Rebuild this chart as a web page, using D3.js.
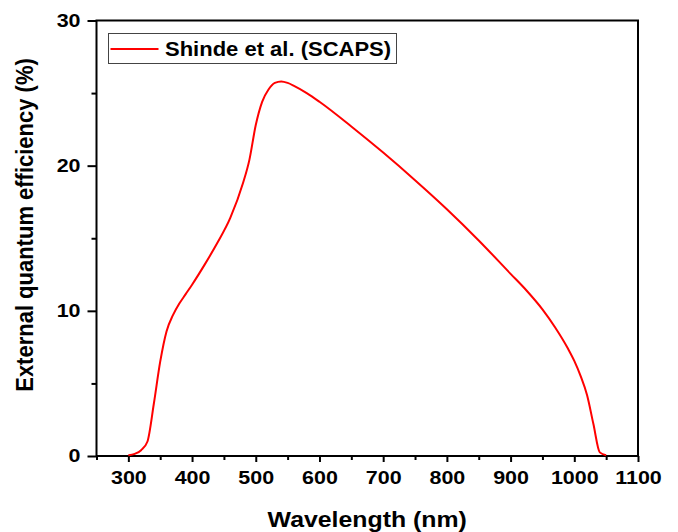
<!DOCTYPE html>
<html>
<head>
<meta charset="utf-8">
<script src="https://cdn.jsdelivr.net/npm/d3@7"></script>
<style>
  body { margin: 0; background: #fff; }
  text { font-family: "Liberation Sans", Arial, sans-serif; font-weight: bold; }
</style>
</head>
<body>
<script>
// data
const wavelength = [300, 310, 320, 330, 340, 350, 360, 370, 380, 390, 400, 420, 440, 460, 480, 490,
  500, 510, 520, 530, 540, 550, 560, 580, 600, 650, 700, 750, 800, 850, 900, 925, 950, 970, 990,
  1000, 1010, 1020, 1030, 1040, 1050];
const eqe = [0.05, 0.15, 0.4, 1.0, 3.6, 6.5, 8.6, 9.7, 10.5, 11.15, 11.8, 13.2, 14.7, 16.4, 18.8, 20.4,
  22.8, 24.4, 25.25, 25.7, 25.8, 25.7, 25.5, 25.0, 24.4, 22.7, 20.9, 19.0, 17.0, 14.85, 12.55, 11.4, 10.1, 8.85, 7.4,
  6.55, 5.5, 4.2, 2.2, 0.25, 0.05];
const xMajor = [300, 400, 500, 600, 700, 800, 900, 1000, 1100];
const xMinor = [250, 350, 450, 550, 650, 750, 850, 950, 1050];
const yMajor = [0, 10, 20, 30];
const yMinor = [5, 15, 25];
const seriesName = 'Shinde et al. (SCAPS)';

const W = 678, H = 532;
const margin = { top: 20.5, right: 40, bottom: 76, left: 96.5 };
const width = W - margin.left - margin.right;
const height = H - margin.top - margin.bottom;
const sx = 1.16; // the reference text is a little wide

const svg = d3.select('body').append('svg')
  .attr('width', W)
  .attr('height', H);

const g = svg.append('g')
  .attr('transform', `translate(${margin.left},${margin.top})`);

const x = d3.scaleLinear().domain([250, 1100]).range([0, width]);
const y = d3.scaleLinear().domain([0, 30]).range([height, 0]);

// minor ticks
g.append('g')
  .attr('transform', `translate(0,${height})`)
  .call(d3.axisBottom(x).tickValues(xMinor).tickSize(4).tickFormat(''))
  .call(a => a.select('.domain').remove())
  .selectAll('line').attr('stroke-width', 2);
g.append('g')
  .call(d3.axisLeft(y).tickValues(yMinor).tickSize(5).tickFormat(''))
  .call(a => a.select('.domain').remove())
  .selectAll('line').attr('stroke-width', 2);

// major ticks
const xAxis = g.append('g')
  .attr('transform', `translate(0,${height})`)
  .call(d3.axisBottom(x).tickValues(xMajor).tickSize(6).tickPadding(9).tickFormat(d3.format('d')));
xAxis.select('.domain').remove();
xAxis.selectAll('line').attr('stroke-width', 2);
xAxis.selectAll('text')
  .style('font-size', '18.5px')
  .attr('fill', '#000')
  .attr('transform', `scale(${sx},1)`);

const yAxis = g.append('g')
  .call(d3.axisLeft(y).tickValues(yMajor).tickSize(9).tickPadding(6).tickFormat(d3.format('d')));
yAxis.select('.domain').remove();
yAxis.selectAll('line').attr('stroke-width', 2);
yAxis.selectAll('text')
  .style('font-size', '18.5px')
  .attr('fill', '#000')
  .attr('x', -16 / sx)
  .attr('transform', `scale(${sx},1)`);

// frame
g.append('rect')
  .attr('width', width)
  .attr('height', height)
  .attr('fill', 'none')
  .attr('stroke', '#000')
  .attr('stroke-width', 2);

// curve
const line = d3.line()
  .x((d, i) => x(wavelength[i]))
  .y(d => y(d))
  .curve(d3.curveMonotoneX);

g.append('path')
  .datum(eqe)
  .attr('fill', 'none')
  .attr('stroke', '#ff0000')
  .attr('stroke-width', 2)
  .attr('d', line);

// legend
const leg = g.append('g').attr('transform', 'translate(12,13)');
leg.append('rect')
  .attr('width', 288)
  .attr('height', 30)
  .attr('fill', '#fff')
  .attr('stroke', '#444')
  .attr('stroke-width', 1);
leg.append('line')
  .attr('x1', 2).attr('x2', 50)
  .attr('y1', 15.5).attr('y2', 15.5)
  .attr('stroke', '#ff0000')
  .attr('stroke-width', 2);
leg.append('text')
  .attr('transform', 'translate(56.5,22.5) scale(1.1,1)')
  .style('font-size', '20px')
  .text(seriesName);

// axis titles
svg.append('text')
  .attr('transform', `translate(${margin.left + width / 2},526.5) scale(1.13,1)`)
  .attr('text-anchor', 'middle')
  .style('font-size', '22px')
  .text('Wavelength (nm)');

svg.append('text')
  .attr('transform', `translate(32.5,225) scale(1.12,1) rotate(-90)`)
  .attr('text-anchor', 'middle')
  .style('font-size', '22px')
  .text('External quantum efficiency (%)');
</script>
</body>
</html>
